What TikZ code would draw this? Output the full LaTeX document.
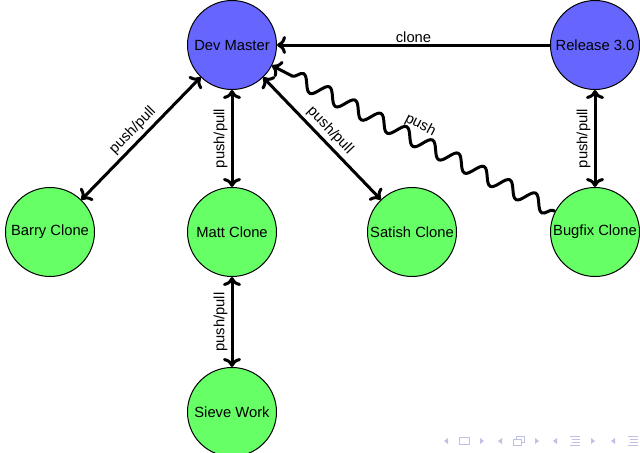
\documentclass[tikz,border=0pt]{standalone}
\usepackage{fontspec}
\setmainfont{Liberation Sans}
\usetikzlibrary{arrows.meta,decorations.pathmorphing}
\definecolor{devblue}{RGB}{102,102,255}
\definecolor{clonegreen}{RGB}{102,255,102}
\definecolor{navcol}{RGB}{192,192,230}
\begin{document}
\begin{tikzpicture}[x=0.5mm,y=-0.5mm,
  every node/.style={font=\fontsize{21}{25}\selectfont},
  repo/.style={circle, draw=black, line width=0.5mm, minimum size=44.5mm, inner sep=0pt},
  master/.style={repo, fill=devblue},
  clonenode/.style={repo, fill=clonegreen},
  link/.style={line width=1.5mm, {To[length=4.5mm,width=9mm]}-{To[length=4.5mm,width=9mm]}},
  onelink/.style={line width=1.5mm, -{To[length=4.5mm,width=9mm]}},
  lbl/.style={sloped, above, inner sep=1.5mm}]
\useasboundingbox (0,0) rectangle (640,453);
\node[master] (dev) at (232,45) {Dev Master};
\node[master] (rel) at (595,45) {Release 3.0};
\node[clonenode] (barry) at (50,232) {Barry Clone};
\node[clonenode] (matt) at (232,232) {Matt Clone};
\node[clonenode] (satish) at (412,232) {Satish Clone};
\node[clonenode] (bugfix) at (595,232) {Bugfix Clone};
\node[clonenode] (sieve) at (232,412) {Sieve Work};

\draw[onelink] (rel) -- node[above, inner sep=0.6mm] {clone} (dev);
\draw[link] (dev) -- node[lbl] {push/pull} (barry);
\draw[link] (matt) -- node[lbl] {push/pull} (dev);
\draw[link] (dev) -- node[lbl] {push/pull} (satish);
\draw[link] (bugfix) -- node[lbl] {push/pull} (rel);
\draw[link] (sieve) -- node[lbl] {push/pull} (matt);
\draw[onelink, decorate, decoration={snake, amplitude=3.7mm, segment length=14.5mm, pre length=1mm, post length=5mm}] (bugfix) -- (dev);
\path (bugfix) -- node[lbl, inner sep=4mm] {push} (dev);

\begin{scope}[navcol, fill=navcol, line width=0.4mm]
  \fill (448,438) -- (444,441) -- (448,444) -- cycle;
  \draw (459,437.5) rectangle (469,444.5);
  \fill (480,438) -- (484,441) -- (480,444) -- cycle;
  \fill (502,438) -- (498,441) -- (502,444) -- cycle;
  \draw[fill=white] (516,436) rectangle (524,442);
  \draw[fill=white] (513,439) rectangle (521,445);
  \fill (535,438) -- (539,441) -- (535,444) -- cycle;
  \fill (557,438) -- (553,441) -- (557,444) -- cycle;
  \draw (570,436.5) -- (580,436.5);
  \draw (572,439.5) -- (580,439.5);
  \draw (572,442.5) -- (580,442.5);
  \draw (570,445.5) -- (580,445.5);
  \fill (591,438) -- (595,441) -- (591,444) -- cycle;
  \fill (615,438) -- (611,441) -- (615,444) -- cycle;
  \draw (628,436.5) -- (638,436.5);
  \draw (630,439.5) -- (638,439.5);
  \draw (630,442.5) -- (638,442.5);
  \draw (628,445.5) -- (638,445.5);
\end{scope}
\end{tikzpicture}
\end{document}
